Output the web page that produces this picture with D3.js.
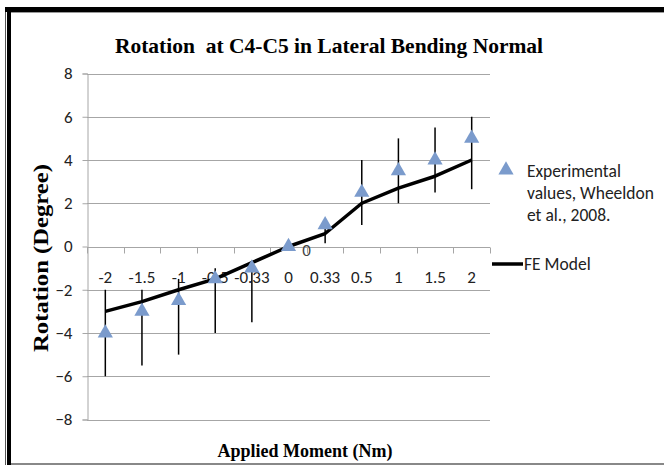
<!DOCTYPE html>
<html>
<head>
<meta charset="utf-8">
<script src="https://cdn.jsdelivr.net/npm/d3@7"></script>
<style>
  body { margin: 0; background: #fff; }
  svg { display: block; }
</style>
</head>
<body>
<svg id="chart" width="664" height="465"></svg>
<script>
// categories on the x axis (applied moment, Nm)
const moments = ["-2", "-1.5", "-1", "-0.5", "-0.33", "0", "0.33", "0.5", "1", "1.5", "2"];
// Wheeldon et al. 2008 experimental values with error bar ends
const expValues = [-4, -3, -2.5, -1.5, -1, 0, 1, 2.5, 3.5, 4, 5];
const expHigh   = [-2, -2, -1.5, -1, -0.8, 0, 1.2, 4, 5, 5.5, 6];
const expLow    = [-6, -5.5, -5, -4, -3.5, 0, 0.15, 1, 2, 2.5, 2.65];
// FE model
const feValues  = [-3, -2.55, -2, -1.5, -0.75, 0, 0.6, 2, 2.7, 3.25, 4];
const yTicks = [-8, -6, -4, -2, 0, 2, 4, 6, 8];

const svg = d3.select("#chart");
const sans = "Carlito, 'Liberation Sans Narrow', 'Liberation Sans', sans-serif";
const serif = "'Liberation Serif', 'Times New Roman', serif";

// frame
svg.append("rect").attr("x", 5).attr("y", 7).attr("width", 1).attr("height", 458).attr("fill", "#555");
svg.append("rect").attr("x", 7).attr("y", 7).attr("width", 4).attr("height", 458).attr("fill", "#000");
svg.append("rect").attr("x", 5).attr("y", 7).attr("width", 659).attr("height", 5).attr("fill", "#000");
svg.append("rect").attr("x", 11).attr("y", 12).attr("width", 653).attr("height", 1).attr("fill", "#999");
svg.append("rect").attr("x", 11).attr("y", 463).attr("width", 653).attr("height", 2).attr("fill", "#888");

const x = d3.scaleBand().domain(moments).range([87, 490]).padding(0);
const y = d3.scaleLinear().domain([-8, 8]).range([419.5, 73.5]);
const cx = d => x(d) + x.bandwidth() / 2;

// gridlines
svg.append("g")
    .selectAll("line")
    .data(yTicks)
    .join("line")
    .attr("x1", 87).attr("x2", 490)
    .attr("y1", d => Math.round(y(d)) + 0.5).attr("y2", d => Math.round(y(d)) + 0.5)
    .attr("stroke", "#a6a6a6");

// y axis
const yAxis = svg.append("g")
    .attr("transform", "translate(87.5,0)")
    .call(d3.axisLeft(y).tickValues(yTicks).tickSize(5).tickPadding(10).tickFormat(d3.format("d")));
yAxis.select(".domain").attr("stroke", "#a6a6a6");
yAxis.selectAll(".tick line").attr("stroke", "#a6a6a6");
yAxis.selectAll("text").attr("font-family", sans).attr("font-size", 17).attr("fill", "#222");

// x axis at y = 0, ticks between categories
const y0 = Math.round(y(0)) + 0.5;
svg.append("line").attr("x1", 87).attr("x2", 490).attr("y1", y0).attr("y2", y0).attr("stroke", "#a6a6a6");
const bounds = moments.map(d => x(d)).concat([x.range()[1]]);
svg.append("g")
    .selectAll("line")
    .data(bounds)
    .join("line")
    .attr("x1", d => Math.round(d) + 0.5).attr("x2", d => Math.round(d) + 0.5)
    .attr("y1", y0).attr("y2", y0 + 6)
    .attr("stroke", "#a6a6a6");
svg.append("g")
    .selectAll("text")
    .data(moments)
    .join("text")
    .attr("x", d => cx(d))
    .attr("y", y0 + 35)
    .attr("text-anchor", "middle")
    .attr("font-family", sans).attr("font-size", 17).attr("fill", "#222")
    .text(d => d);

// FE model line
svg.append("path")
    .datum(feValues)
    .attr("d", d3.line().x((d, i) => cx(moments[i])).y(d => y(d)))
    .attr("fill", "none")
    .attr("stroke", "#000")
    .attr("stroke-width", 3.5)
    .attr("stroke-linejoin", "round");

// data label on the FE point at 0
svg.append("text")
    .attr("x", cx("0") + 18).attr("y", y(feValues[5]) + 9)
    .attr("text-anchor", "middle")
    .attr("font-family", sans).attr("font-size", 17).attr("fill", "#444")
    .text(feValues[5]);

// error bars
svg.append("g")
    .selectAll("line")
    .data(moments)
    .join("line")
    .attr("x1", d => cx(d)).attr("x2", d => cx(d))
    .attr("y1", (d, i) => y(expHigh[i])).attr("y2", (d, i) => y(expLow[i]))
    .attr("stroke", "#000")
    .attr("stroke-width", 1.5);

// experimental triangles
const tri = d3.symbol().type(d3.symbolTriangle).size(100);
svg.append("g")
    .selectAll("path")
    .data(expValues)
    .join("path")
    .attr("d", tri)
    .attr("transform", (d, i) => `translate(${cx(moments[i])},${y(d)})`)
    .attr("fill", "#7b9bcc");

// title
svg.append("text")
    .attr("x", 329).attr("y", 53)
    .attr("text-anchor", "middle")
    .attr("font-family", serif).attr("font-weight", "bold").attr("font-size", 21.5)
    .style("white-space", "pre")
    .text("Rotation  at C4-C5 in Lateral Bending Normal");

// axis titles
svg.append("text")
    .attr("transform", "translate(48,258) rotate(-90)")
    .attr("text-anchor", "middle")
    .attr("font-family", serif).attr("font-weight", "bold").attr("font-size", 21)
    .attr("textLength", 188).attr("lengthAdjust", "spacingAndGlyphs")
    .text("Rotation (Degree)");
svg.append("text")
    .attr("x", 305).attr("y", 457)
    .attr("text-anchor", "middle")
    .attr("font-family", serif).attr("font-weight", "bold").attr("font-size", 18)
    .text("Applied Moment (Nm)");

// legend
const lg = svg.append("g");
lg.append("path").attr("d", tri).attr("transform", "translate(506,170)").attr("fill", "#7b9bcc");
const expLines = ["Experimental", "values, Wheeldon", "et al., 2008."];
lg.append("g")
    .selectAll("text")
    .data(expLines)
    .join("text")
    .attr("x", 527).attr("y", (d, i) => 177 + i * 22)
    .attr("font-family", sans).attr("font-size", 17.5).attr("fill", "#222")
    .text(d => d);
lg.append("line").attr("x1", 492).attr("x2", 523).attr("y1", 264).attr("y2", 264)
    .attr("stroke", "#000").attr("stroke-width", 3.5);
lg.append("text").attr("x", 524).attr("y", 270)
    .attr("font-family", sans).attr("font-size", 17.5).attr("fill", "#222")
    .text("FE Model");
</script>
</body>
</html>
